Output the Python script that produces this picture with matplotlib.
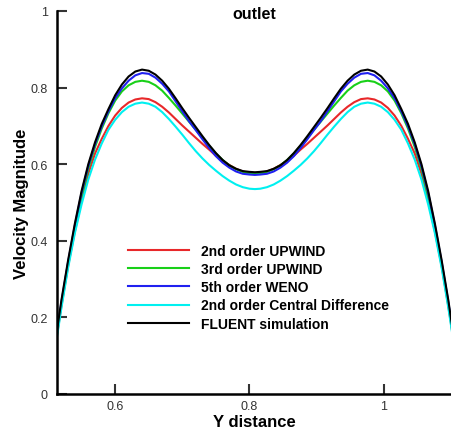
import matplotlib
matplotlib.use("Agg")
import matplotlib.pyplot as plt

plt.rcParams['font.family'] = ['Liberation Sans', 'DejaVu Sans']

# sample positions along the outlet (Y distance)
y_dist = [0.510, 0.520, 0.530, 0.540, 0.550, 0.560, 0.570, 0.580, 0.590, 0.600,
          0.610, 0.620, 0.630, 0.640, 0.650, 0.660, 0.670, 0.680, 0.690, 0.700,
          0.710, 0.720, 0.730, 0.740, 0.750, 0.760, 0.770, 0.780, 0.790, 0.800,
          0.808,
          0.816, 0.826, 0.836, 0.846, 0.856, 0.866, 0.876, 0.886, 0.896, 0.906,
          0.916, 0.926, 0.936, 0.946, 0.956, 0.966, 0.976, 0.986, 0.996, 1.006,
          1.016, 1.026, 1.036, 1.046, 1.056, 1.066, 1.076, 1.086, 1.096, 1.106]

upwind2 = [0.115, 0.230, 0.335, 0.425, 0.505, 0.575, 0.628, 0.666, 0.700, 0.727,
           0.747, 0.761, 0.769, 0.772, 0.770, 0.762, 0.750, 0.735, 0.718, 0.701,
           0.685, 0.669, 0.653, 0.638, 0.622, 0.609, 0.598, 0.588, 0.581, 0.577,
           0.576,
           0.577, 0.581, 0.588, 0.598, 0.609, 0.622, 0.638, 0.653, 0.669, 0.685,
           0.701, 0.718, 0.735, 0.750, 0.762, 0.770, 0.772, 0.769, 0.761, 0.747,
           0.727, 0.700, 0.666, 0.628, 0.575, 0.505, 0.425, 0.335, 0.230, 0.115]

upwind3 = [0.120, 0.235, 0.340, 0.430, 0.515, 0.588, 0.645, 0.693, 0.733, 0.766,
           0.790, 0.806, 0.815, 0.818, 0.815, 0.806, 0.792, 0.773, 0.753, 0.732,
           0.711, 0.690, 0.669, 0.648, 0.628, 0.611, 0.597, 0.587, 0.580, 0.576,
           0.575,
           0.576, 0.580, 0.587, 0.597, 0.611, 0.628, 0.648, 0.669, 0.690, 0.711,
           0.732, 0.753, 0.773, 0.792, 0.806, 0.815, 0.818, 0.815, 0.806, 0.790,
           0.766, 0.733, 0.693, 0.645, 0.588, 0.515, 0.430, 0.340, 0.235, 0.120]

weno5 = [0.120, 0.240, 0.345, 0.440, 0.525, 0.595, 0.652, 0.699, 0.738, 0.772,
         0.798, 0.818, 0.832, 0.838, 0.836, 0.826, 0.810, 0.790, 0.764, 0.738,
         0.712, 0.689, 0.665, 0.642, 0.621, 0.604, 0.591, 0.581, 0.575, 0.573,
         0.572,
         0.573, 0.575, 0.581, 0.591, 0.604, 0.621, 0.642, 0.665, 0.689, 0.712,
         0.738, 0.764, 0.790, 0.810, 0.826, 0.836, 0.838, 0.832, 0.818, 0.798,
         0.772, 0.738, 0.699, 0.652, 0.595, 0.525, 0.440, 0.345, 0.240, 0.120]

central2 = [0.110, 0.225, 0.330, 0.420, 0.495, 0.560, 0.612, 0.654, 0.690, 0.716,
            0.736, 0.750, 0.758, 0.761, 0.758, 0.750, 0.736, 0.718, 0.698, 0.677,
            0.655, 0.634, 0.615, 0.598, 0.583, 0.569, 0.557, 0.547, 0.540, 0.536,
            0.535,
            0.536, 0.540, 0.547, 0.557, 0.569, 0.583, 0.598, 0.615, 0.634, 0.655,
            0.677, 0.698, 0.718, 0.736, 0.750, 0.758, 0.761, 0.758, 0.750, 0.736,
            0.716, 0.690, 0.654, 0.612, 0.560, 0.495, 0.420, 0.330, 0.225, 0.110]

fluent = [0.125, 0.245, 0.350, 0.445, 0.530, 0.600, 0.657, 0.705, 0.744, 0.780,
          0.808, 0.829, 0.842, 0.847, 0.844, 0.834, 0.818, 0.797, 0.772, 0.746,
          0.721, 0.697, 0.673, 0.650, 0.629, 0.611, 0.597, 0.588, 0.582, 0.580,
          0.579,
          0.580, 0.582, 0.588, 0.597, 0.611, 0.629, 0.650, 0.673, 0.697, 0.721,
          0.746, 0.772, 0.797, 0.818, 0.834, 0.844, 0.847, 0.842, 0.829, 0.808,
          0.780, 0.744, 0.705, 0.657, 0.600, 0.530, 0.445, 0.350, 0.245, 0.125]

labels = ["2nd order UPWIND", "3rd order UPWIND", "5th order WENO",
          "2nd order Central Difference", "FLUENT simulation"]
colors = ["#e8282a", "#18d018", "#2020f0", "#00f0f0", "black"]

fig = plt.figure(figsize=(4.51, 4.35), dpi=100)
ax = fig.add_axes([57/451, 40/435, 394/451, 383/435])

for vals, lab, c in zip([upwind2, upwind3, weno5, central2, fluent], labels, colors):
    ax.plot(y_dist, vals, color=c, lw=1.5, label=lab)

ax.set_xlim(0.5134, 1.1)
ax.set_ylim(0, 1)
ax.set_xticks([0.6, 0.8, 1.0])
ax.set_xticklabels(["0.6", "0.8", "1"])
ax.set_yticks([0, 0.2, 0.4, 0.6, 0.8, 1.0])
ax.set_yticklabels(["0", "0.2", "0.4", "0.6", "0.8", "1"])
ax.tick_params(direction='in', length=7, width=1.5, labelsize=9, colors='#333333')
ax.tick_params(axis='y', pad=6.5)
ax.tick_params(axis='x', pad=4)
ax.spines['top'].set_visible(False)
ax.spines['right'].set_visible(False)
ax.spines['left'].set_linewidth(1.8)
ax.spines['bottom'].set_linewidth(1.8)

ax.text(0.5, 0.993, "outlet", transform=ax.transAxes, ha='center', va='center',
        fontsize=11.5, fontweight='bold')
ax.set_xlabel("Y distance", fontsize=12, fontweight='bold', labelpad=2)
ax.set_ylabel("Velocity Magnitude", fontsize=12, fontweight='bold', labelpad=1.5)

leg = ax.legend(loc='upper left', bbox_to_anchor=(0.18, 0.392), frameon=False,
                prop={'weight': 'bold', 'size': 10},
                handlelength=4.4, handletextpad=0.85, labelspacing=0.3,
                borderpad=0, borderaxespad=0)

plt.savefig("out.png", dpi=100)
